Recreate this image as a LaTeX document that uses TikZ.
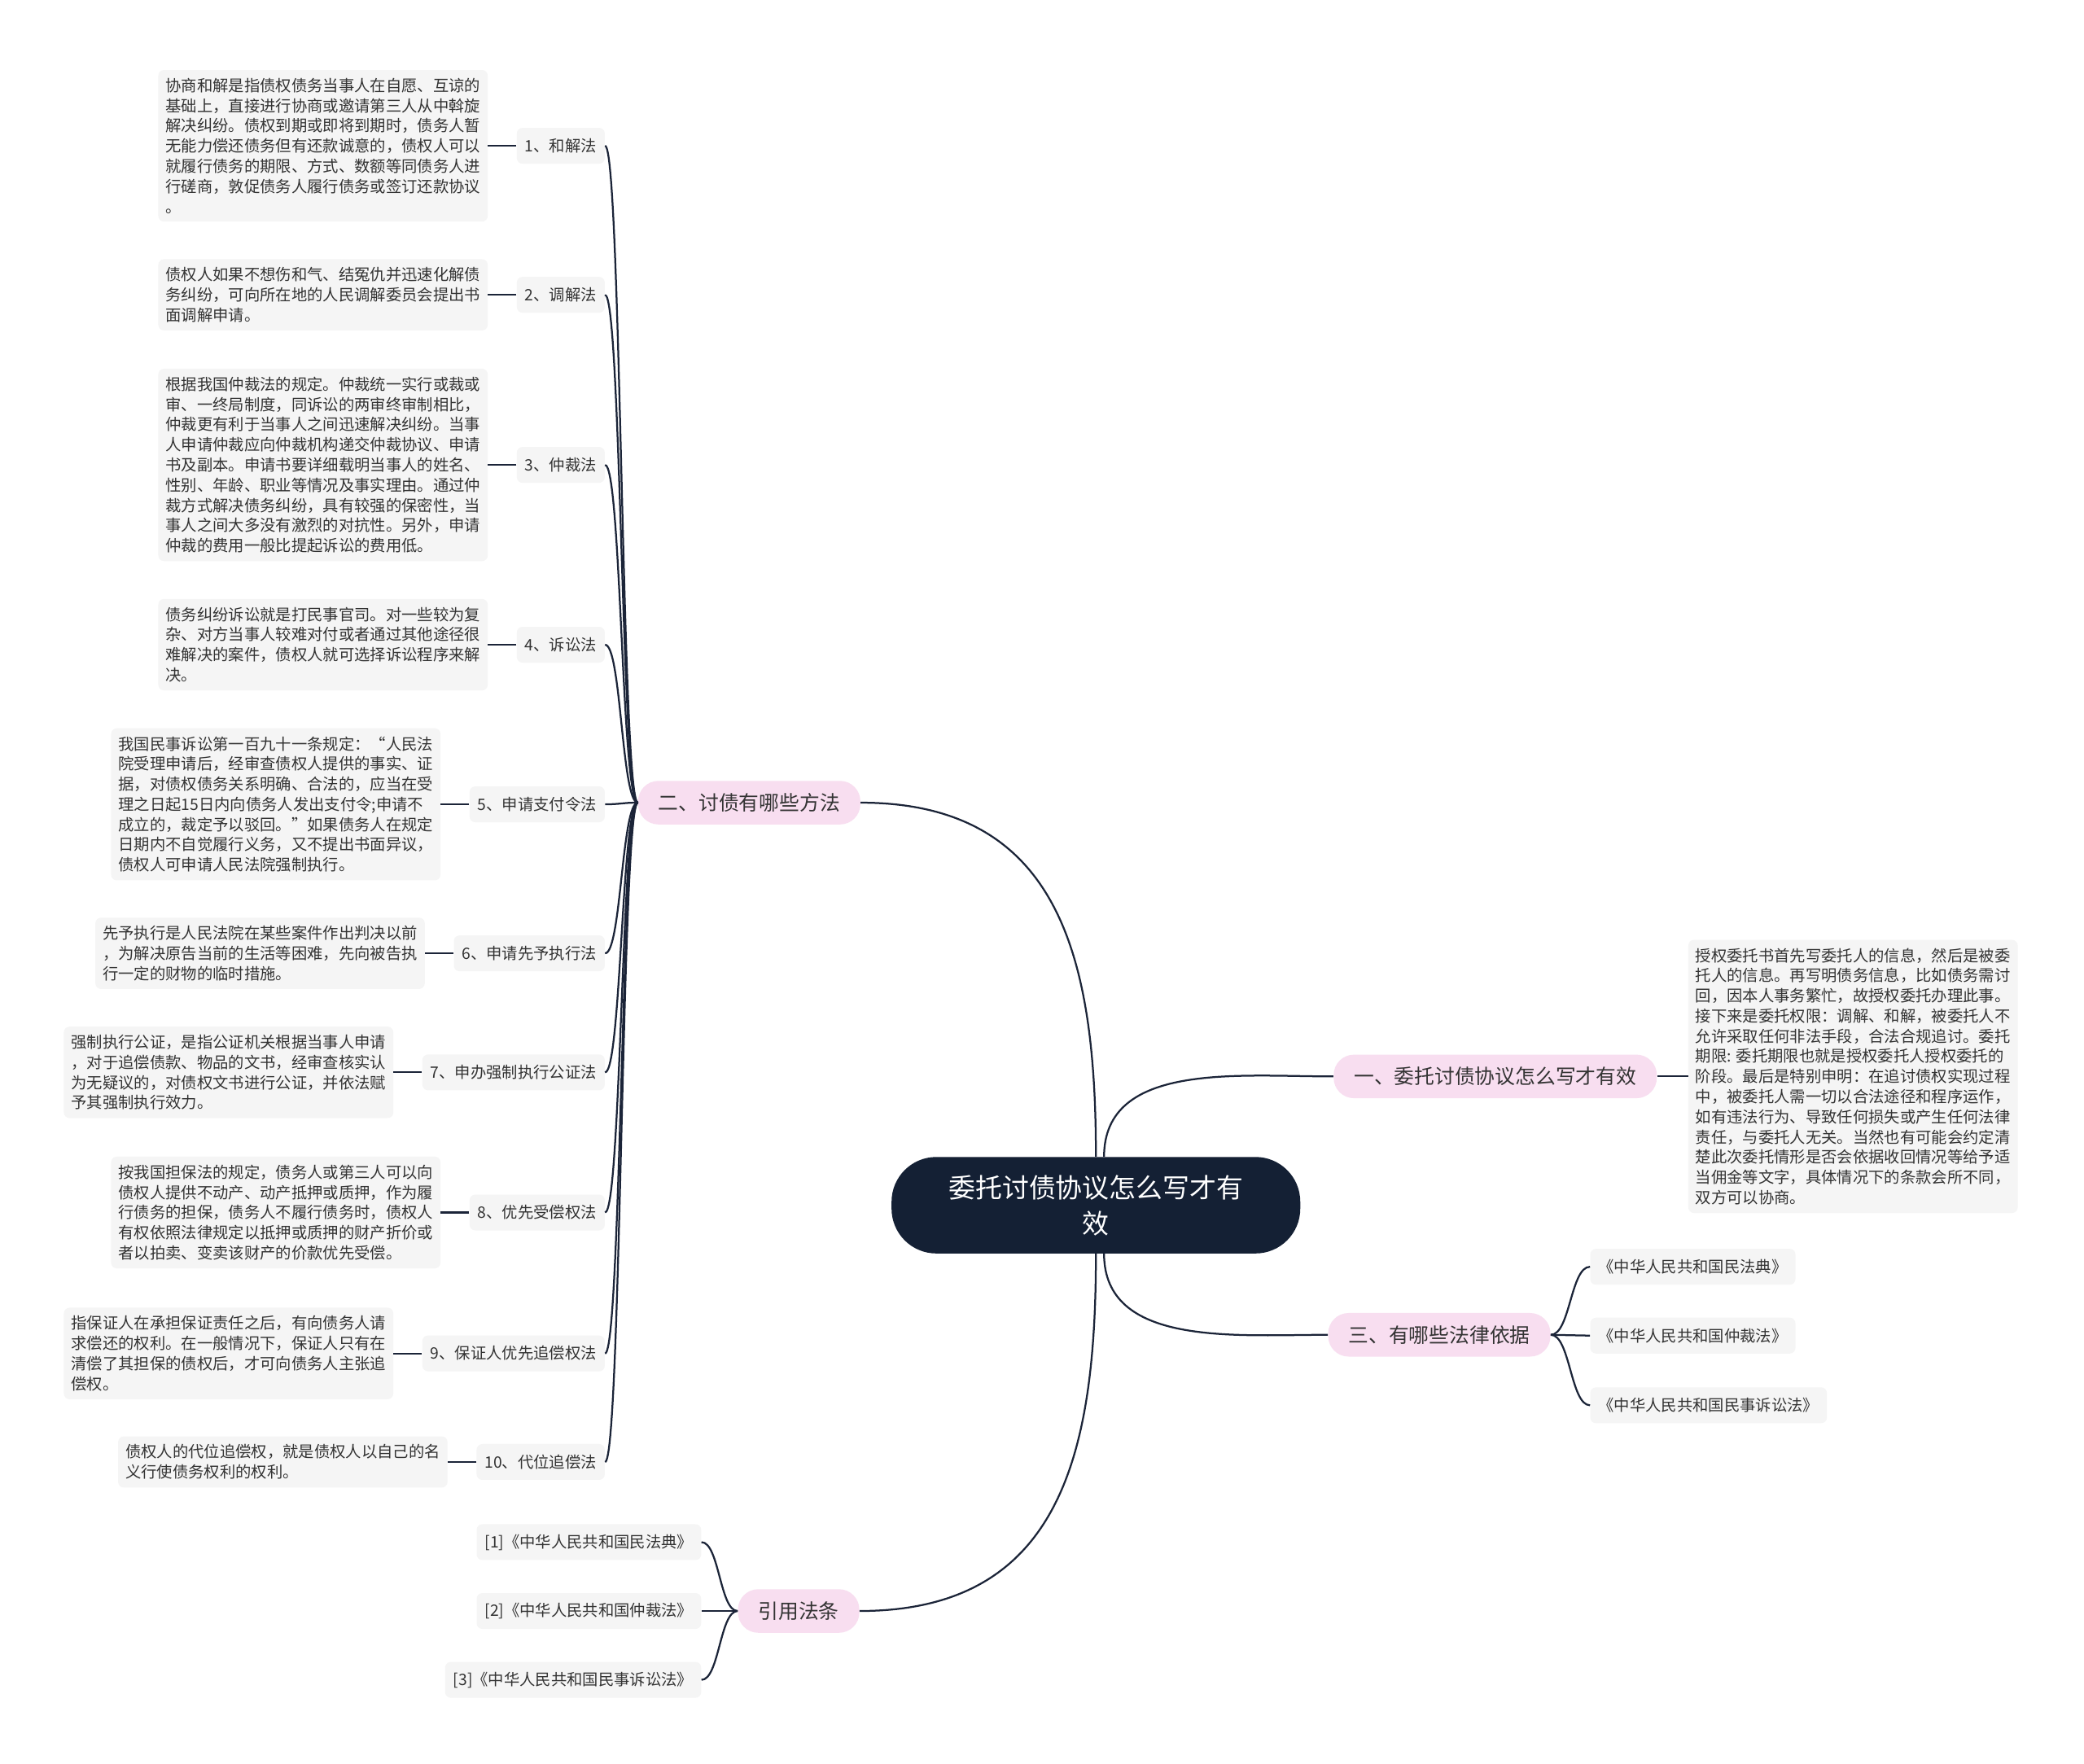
\documentclass[tikz,border=0pt]{standalone}
\usepackage{fontspec}
\setmainfont{Noto Sans CJK SC}
\usetikzlibrary{positioning}
\definecolor{rootfill}{RGB}{20,32,52}
\definecolor{mainfill}{RGB}{248,222,240}
\definecolor{itemfill}{RGB}{245,245,245}
\definecolor{inkclr}{RGB}{51,51,51}
\definecolor{wireclr}{RGB}{27,36,56}

\begin{document}
\begin{tikzpicture}[x=0.0199cm,y=-0.0199cm,
  root node/.style={fill=rootfill,text=white,rounded corners=1.1cm,align=center,
    minimum width=10.04cm,minimum height=2.37cm,font=\fontsize{18.7}{25}\selectfont},
  main node/.style={fill=mainfill,text=inkclr,rounded corners=0.5cm,
    minimum height=1.07cm,inner xsep=0.5cm,font=\fontsize{14.1}{17}\selectfont},
  item node/.style={fill=itemfill,text=inkclr,rounded corners=0.14cm,
    minimum height=0.88cm,inner xsep=0.2cm,font=\fontsize{11}{13}\selectfont},
  note node/.style={fill=itemfill,text=inkclr,rounded corners=0.14cm,align=left,
    inner xsep=0.18cm,inner ysep=0.2cm,font=\fontsize{11}{14.1}\selectfont},
  wire/.style={wireclr,line width=0.045cm},
  fork/.style={to path={.. controls +(-#1,0) and +(#1,0) .. (\tikztotarget)}}]

  \useasboundingbox[fill=white] (0,0) rectangle (2572.9,2177.9);

  \node[root node] (root) at (1353,1488) {委托讨债协议怎么写才有\\效};

  \node[main node] (m1) at (1846,1329) {一、委托讨债协议怎么写才有效};
  \node[main node] (m2) at (925,991) {二、讨债有哪些方法};
  \node[main node] (m3) at (1777,1648) {三、有哪些法律依据};
  \node[main node] (m4) at (986,1989) {引用法条};

  \node[note node,right=0.76cm of m1] (d1) {授权委托书首先写委托人的信息，然后是被委\\托人的信息。再写明债务信息，比如债务需讨\\回，因本人事务繁忙，故授权委托办理此事。\\接下来是委托权限：调解、和解，被委托人不\\允许采取任何非法手段，合法合规追讨。委托\\期限: 委托期限也就是授权委托人授权委托的\\阶段。最后是特别申明：在追讨债权实现过程\\中，被委托人需一切以合法途径和程序运作，\\如有违法行为、导致任何损失或产生任何法律\\责任，与委托人无关。当然也有可能会约定清\\楚此次委托情形是否会依据收回情况等给予适\\当佣金等文字，具体情况下的条款会所不同，\\双方可以协商。};

  \node[item node,anchor=east] (w1) at (747,180) {1、和解法};
  \node[item node,anchor=east] (w2) at (747,364) {2、调解法};
  \node[item node,anchor=east] (w3) at (747,574) {3、仲裁法};
  \node[item node,anchor=east] (w4) at (747,796) {4、诉讼法};
  \node[item node,anchor=east] (w5) at (747,993) {5、申请支付令法};
  \node[item node,anchor=east] (w6) at (747,1177) {6、申请先予执行法};
  \node[item node,anchor=east] (w7) at (747,1324) {7、申办强制执行公证法};
  \node[item node,anchor=east] (w8) at (747,1497) {8、优先受偿权法};
  \node[item node,anchor=east] (w9) at (747,1671) {9、保证人优先追偿权法};
  \node[item node,anchor=east] (w10) at (747,1805) {10、代位追偿法};

  \node[note node,left=0.7cm of w1] (t1) {协商和解是指债权债务当事人在自愿、互谅的\\基础上，直接进行协商或邀请第三人从中斡旋\\解决纠纷。债权到期或即将到期时，债务人暂\\无能力偿还债务但有还款诚意的，债权人可以\\就履行债务的期限、方式、数额等同债务人进\\行磋商，敦促债务人履行债务或签订还款协议\\。};
  \node[note node,left=0.7cm of w2] (t2) {债权人如果不想伤和气、结冤仇并迅速化解债\\务纠纷，可向所在地的人民调解委员会提出书\\面调解申请。};
  \node[note node,left=0.7cm of w3] (t3) {根据我国仲裁法的规定。仲裁统一实行或裁或\\审、一终局制度，同诉讼的两审终审制相比，\\仲裁更有利于当事人之间迅速解决纠纷。当事\\人申请仲裁应向仲裁机构递交仲裁协议、申请\\书及副本。申请书要详细载明当事人的姓名、\\性别、年龄、职业等情况及事实理由。通过仲\\裁方式解决债务纠纷，具有较强的保密性，当\\事人之间大多没有激烈的对抗性。另外，申请\\仲裁的费用一般比提起诉讼的费用低。};
  \node[note node,left=0.7cm of w4] (t4) {债务纠纷诉讼就是打民事官司。对一些较为复\\杂、对方当事人较难对付或者通过其他途径很\\难解决的案件，债权人就可选择诉讼程序来解\\决。};
  \node[note node,left=0.7cm of w5] (t5) {我国民事诉讼第一百九十一条规定：“人民法\\院受理申请后，经审查债权人提供的事实、证\\据，对债权债务关系明确、合法的，应当在受\\理之日起15日内向债务人发出支付令;申请不\\成立的，裁定予以驳回。”如果债务人在规定\\日期内不自觉履行义务，又不提出书面异议，\\债权人可申请人民法院强制执行。};
  \node[note node,left=0.7cm of w6] (t6) {先予执行是人民法院在某些案件作出判决以前\\，为解决原告当前的生活等困难，先向被告执\\行一定的财物的临时措施。};
  \node[note node,left=0.7cm of w7] (t7) {强制执行公证，是指公证机关根据当事人申请\\，对于追偿债款、物品的文书，经审查核实认\\为无疑议的，对债权文书进行公证，并依法赋\\予其强制执行效力。};
  \node[note node,left=0.7cm of w8] (t8) {按我国担保法的规定，债务人或第三人可以向\\债权人提供不动产、动产抵押或质押，作为履\\行债务的担保，债务人不履行债务时，债权人\\有权依照法律规定以抵押或质押的财产折价或\\者以拍卖、变卖该财产的价款优先受偿。};
  \node[note node,left=0.7cm of w9] (t9) {指保证人在承担保证责任之后，有向债务人请\\求偿还的权利。在一般情况下，保证人只有在\\清偿了其担保的债权后，才可向债务人主张追\\偿权。};
  \node[note node,left=0.7cm of w10] (t10) {债权人的代位追偿权，就是债权人以自己的名\\义行使债务权利的权利。};

  \node[item node,anchor=west] (r1) at (1963,1564) {《中华人民共和国民法典》};
  \node[item node,anchor=west] (r2) at (1963,1649) {《中华人民共和国仲裁法》};
  \node[item node,anchor=west] (r3) at (1963,1735) {《中华人民共和国民事诉讼法》};

  \node[item node,anchor=east] (s1) at (866,1904) {[1]《中华人民共和国民法典》};
  \node[item node,anchor=east] (s2) at (866,1989) {[2]《中华人民共和国仲裁法》};
  \node[item node,anchor=east] (s3) at (866,2074) {[3]《中华人民共和国民事诉讼法》};

  \path[wire]
    (root.north) edge[out=90,in=0,looseness=1.2] (m2.east)
    ([xshift=0.2cm]root.north) edge[out=90,in=180] (m1.west)
    ([xshift=0.2cm]root.south) edge[out=-90,in=180] (m3.west)
    (root.south) edge[out=-90,in=0,looseness=1.2] (m4.east)
    (m1.east) edge (d1.west)
    (m2.west) edge[fork=20] (w1.east)
    (m2.west) edge[fork=20] (w2.east)
    (m2.west) edge[fork=20] (w3.east)
    (m2.west) edge[fork=20] (w4.east)
    (m2.west) edge[fork=20] (w5.east)
    (m2.west) edge[fork=20] (w6.east)
    (m2.west) edge[fork=20] (w7.east)
    (m2.west) edge[fork=20] (w8.east)
    (m2.west) edge[fork=20] (w9.east)
    (m2.west) edge[fork=20] (w10.east)
    (w1.west) edge (t1.east)
    (w2.west) edge (t2.east)
    (w3.west) edge (t3.east)
    (w4.west) edge (t4.east)
    (w5.west) edge (t5.east)
    (w6.west) edge (t6.east)
    (w7.west) edge (t7.east)
    (w8.west) edge (t8.east)
    (w9.west) edge (t9.east)
    (w10.west) edge (t10.east)
    (m3.east) edge[fork=-24] (r1.west)
    (m3.east) edge[fork=-24] (r2.west)
    (m3.east) edge[fork=-24] (r3.west)
    (m4.west) edge[fork=22] (s1.east)
    (m4.west) edge[fork=22] (s2.east)
    (m4.west) edge[fork=22] (s3.east);
\end{tikzpicture}
\end{document}
